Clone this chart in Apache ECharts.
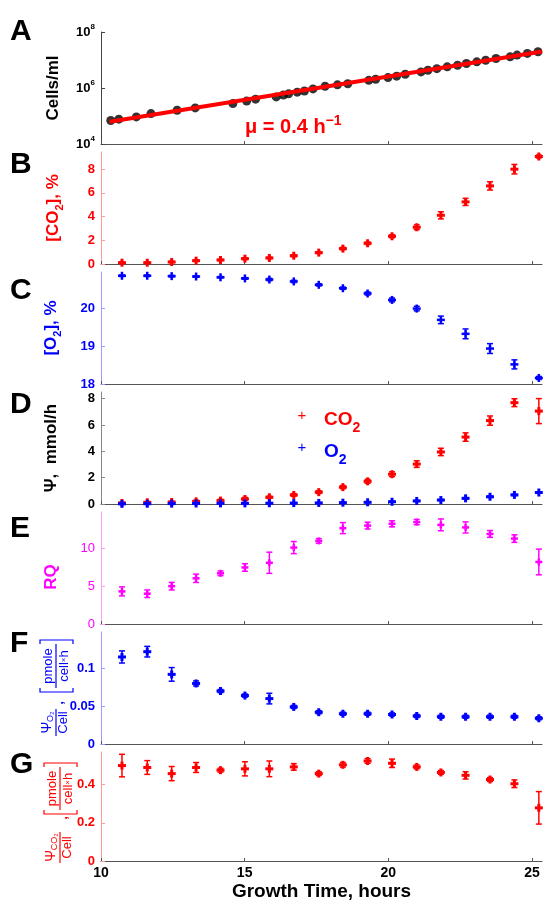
<!DOCTYPE html>
<html><head><meta charset="utf-8">
<script src="https://cdn.jsdelivr.net/npm/echarts@6/dist/echarts.min.js"></script>
<style>html,body{margin:0;padding:0;background:#fff}#c{width:544px;height:902px}</style>
</head><body><div id="c"></div><script>
// ---------------- DATA ----------------
const timeH = [10.73, 11.61, 12.46, 13.31, 14.16, 15.01, 15.86, 16.71, 17.58, 18.42, 19.28, 20.13, 20.99, 21.83, 22.69, 23.54, 24.39, 25.24];

const cellTimeH = [10.34, 10.62, 11.23, 11.74, 12.65, 13.28, 14.59, 15.07, 15.38, 16.10, 16.35, 16.53, 16.83, 17.08, 17.38, 17.80, 18.23, 18.59, 19.32, 19.56, 19.99, 20.29, 20.59, 21.14, 21.38, 21.69, 22.05, 22.41, 22.72, 23.08, 23.39, 23.75, 24.24, 24.48, 24.84, 25.21];
const cellsPerMl = [6.9e4, 7.7e4, 9.3e4, 1.22e5, 1.6e5, 1.95e5, 2.8e5, 3.4e5, 4.0e5, 4.8e5, 5.6e5, 6.2e5, 7.1e5, 7.8e5, 9.3e5, 1.15e6, 1.3e6, 1.42e6, 1.88e6, 2.05e6, 2.35e6, 2.65e6, 3.1e6, 3.75e6, 4.3e6, 4.9e6, 5.7e6, 6.5e6, 7.5e6, 8.6e6, 9.8e6, 1.13e7, 1.3e7, 1.5e7, 1.72e7, 1.98e7];
const fitTimeH = [10.3, 25.35];
const fitCellsPerMl = [6.2e4, 2.0e7];

const co2Pct    = [0.11, 0.11, 0.17, 0.28, 0.34, 0.45, 0.51, 0.70, 0.96, 1.30, 1.75, 2.34, 3.10, 4.11, 5.24, 6.59, 8.00, 9.07];
const co2PctErr = [0.05, 0.05, 0.05, 0.06, 0.05, 0.08, 0.06, 0.08, 0.08, 0.10, 0.10, 0.12, 0.20, 0.30, 0.30, 0.35, 0.40, 0.12];

const o2Pct    = [20.87, 20.87, 20.86, 20.85, 20.83, 20.80, 20.77, 20.72, 20.63, 20.54, 20.40, 20.23, 20.00, 19.70, 19.33, 18.94, 18.52, 18.16];
const o2PctErr = [0.02, 0.02, 0.02, 0.02, 0.02, 0.02, 0.03, 0.03, 0.03, 0.03, 0.04, 0.05, 0.06, 0.10, 0.13, 0.13, 0.12, 0.04];

const psiCO2    = [0.08, 0.13, 0.15, 0.20, 0.26, 0.38, 0.51, 0.69, 0.90, 1.28, 1.72, 2.26, 3.03, 3.95, 5.08, 6.33, 7.69, 7.05];
const psiCO2Err = [0.05, 0.05, 0.05, 0.08, 0.10, 0.12, 0.08, 0.10, 0.10, 0.12, 0.15, 0.18, 0.25, 0.28, 0.32, 0.35, 0.30, 0.95];
const psiO2     = [0.01, 0.02, 0.03, 0.04, 0.05, 0.05, 0.06, 0.07, 0.08, 0.10, 0.13, 0.17, 0.23, 0.30, 0.43, 0.55, 0.69, 0.87];
const psiO2Err  = [0.03, 0.03, 0.03, 0.03, 0.03, 0.03, 0.03, 0.03, 0.03, 0.03, 0.03, 0.03, 0.04, 0.04, 0.05, 0.05, 0.05, 0.05];

const rq    = [4.31, 4.00, 5.00, 6.04, 6.70, 7.47, 8.09, 10.10, 10.98, 12.67, 13.00, 13.24, 13.47, 13.10, 12.76, 11.90, 11.29, 8.20];
const rqErr = [0.60, 0.50, 0.50, 0.55, 0.30, 0.50, 1.40, 0.80, 0.30, 0.73, 0.45, 0.40, 0.35, 0.78, 0.73, 0.45, 0.50, 1.70];

const o2PerCell    = [0.115, 0.122, 0.092, 0.080, 0.070, 0.064, 0.060, 0.049, 0.042, 0.040, 0.040, 0.039, 0.037, 0.036, 0.036, 0.036, 0.036, 0.034];
const o2PerCellErr = [0.008, 0.007, 0.009, 0.0033, 0.002, 0.002, 0.007, 0.002, 0.002, 0.002, 0.002, 0.002, 0.002, 0.002, 0.002, 0.002, 0.002, 0.002];

const co2PerCell    = [0.499, 0.489, 0.457, 0.489, 0.475, 0.482, 0.482, 0.492, 0.457, 0.503, 0.523, 0.511, 0.492, 0.463, 0.448, 0.426, 0.404, 0.278];
const co2PerCellErr = [0.059, 0.036, 0.037, 0.026, 0.010, 0.037, 0.041, 0.017, 0.010, 0.012, 0.012, 0.022, 0.010, 0.010, 0.019, 0.010, 0.020, 0.085];

const xTicks = [10, 15, 20, 25];
const cellTicks = [1e4, 1e6, 1e8];
const co2PctTicks = [0, 2, 4, 6, 8];
const o2PctTicks = [18, 19, 20];
const psiTicks = [0, 2, 4, 6, 8];
const rqTicks = [0, 5, 10];
const o2CellTicks = [0, 0.05, 0.1];
const co2CellTicks = [0, 0.2, 0.4];

const panelLetters = ['A', 'B', 'C', 'D', 'E', 'F', 'G'];

// ---------------- STYLE ----------------
const FF = 'Arial, "Liberation Sans", Helvetica, sans-serif';
const RED = '#ff0000', BLUE = '#0000ff', MAG = '#ff00ff';
const GRID_TOP0 = 32, GRID_STEP = 120, GRID_H = 112;

const chart = echarts.init(document.getElementById('c'), null, {renderer: 'canvas'});

const grids = [], xAxes = [], yAxes = [];
for (let k = 0; k < 7; k++) {
  grids.push({left: 101, width: 441, top: GRID_TOP0 + GRID_STEP * k, height: GRID_H});
  xAxes.push({
    type: 'value', gridIndex: k, min: 10, max: 25.35,
    axisLine: {show: true, onZero: false, lineStyle: {color: '#555', width: 1}},
    axisTick: {show: true, inside: true, length: 3, customValues: xTicks, lineStyle: {color: '#555'}},
    axisLabel: {show: k === 6, customValues: xTicks, color: '#000', fontSize: 14, fontWeight: 'bold', fontFamily: FF, margin: 5},
    splitLine: {show: false},
    name: k === 6 ? 'Growth Time, hours' : '',
    nameLocation: 'middle', nameGap: 21,
    nameTextStyle: {color: '#000', fontSize: 19, fontWeight: 'bold', fontFamily: FF}
  });
}

function yAx(k, o) {
  return {
    type: o.type || 'value', gridIndex: k, min: o.min, max: o.max,
    name: o.name || '', nameLocation: 'middle', nameGap: o.gap || 36, nameRotate: 90,
    nameTextStyle: Object.assign({color: o.nameColor, fontSize: 17, fontWeight: 'bold', fontFamily: FF, lineHeight: 24,
      rich: {s: {color: o.nameColor, fontSize: 11, fontWeight: 'bold', fontFamily: FF, lineHeight: 11, verticalAlign: 'bottom'}}}, o.nameExtra || {}),
    axisLine: {show: true, lineStyle: {color: o.lineColor, width: 1}},
    axisTick: {show: true, inside: true, length: 4, customValues: o.ticks, lineStyle: {color: o.lineColor}},
    axisLabel: Object.assign({color: o.labelColor, fontSize: 13, fontWeight: o.labelWeight || 'bold', fontFamily: FF, margin: 6, customValues: o.ticks}, o.label || {}),
    splitLine: {show: false}
  };
}

yAxes.push(yAx(0, {type: 'log', min: 1e4, max: 1e8, ticks: cellTicks, name: 'Cells/ml', nameColor: '#000', lineColor: '#444', labelColor: '#000',
  label: {
    formatter: v => '{b|10}{s|' + Math.round(Math.log10(v)) + '}',
    rich: {b: {color: '#000', fontSize: 13, fontWeight: 'bold', fontFamily: FF, lineHeight: 18},
           s: {color: '#000', fontSize: 8, fontWeight: 'bold', fontFamily: FF, lineHeight: 10, verticalAlign: 'top'}}
  }}));
yAxes.push(yAx(1, {min: 0, max: 9.45, ticks: co2PctTicks, name: '[CO{s|2}], %', nameColor: RED, lineColor: '#ff9a9a', labelColor: RED}));
yAxes.push(yAx(2, {min: 18, max: 20.97, ticks: o2PctTicks, name: '[O{s|2}], %', nameColor: BLUE, lineColor: '#9a9aff', labelColor: BLUE, gap: 38}));
yAxes.push(yAx(3, {min: 0, max: 8.5, ticks: psiTicks, name: 'Ψ,  mmol/h', nameColor: '#000', lineColor: '#888', labelColor: '#000', gap: 38}));
yAxes.push(yAx(4, {min: 0, max: 14.8, ticks: rqTicks, name: 'RQ', nameColor: MAG, lineColor: '#ff9aff', labelColor: MAG, labelWeight: 'normal', gap: 38,
  nameExtra: {padding: [0, 18, 0, 0]}}));
yAxes.push(yAx(5, {min: 0, max: 0.148, ticks: o2CellTicks, nameColor: BLUE, lineColor: '#9a9aff', labelColor: BLUE}));
yAxes.push(yAx(6, {min: 0, max: 0.57, ticks: co2CellTicks, nameColor: RED, lineColor: '#ff9a9a', labelColor: RED}));

function errSeries(k, vals, errs, color, m, lw) {
  return {
    type: 'custom', xAxisIndex: k, yAxisIndex: k, clip: false,
    data: timeH.map((t, i) => [t, vals[i], errs[i]]),
    encode: {x: 0, y: 1},
    renderItem: (params, api) => {
      const x = api.value(0), y = api.value(1), e = api.value(2);
      const c = api.coord([x, y]), hi = api.coord([x, y + e]), lo = api.coord([x, y - e]);
      const cw = 3, st = {stroke: color, lineWidth: 1.5};
      const mst = {stroke: color, lineWidth: lw};
      return {type: 'group', children: [
        {type: 'line', shape: {x1: c[0], y1: hi[1], x2: c[0], y2: lo[1]}, style: st},
        {type: 'line', shape: {x1: c[0] - cw, y1: hi[1], x2: c[0] + cw, y2: hi[1]}, style: st},
        {type: 'line', shape: {x1: c[0] - cw, y1: lo[1], x2: c[0] + cw, y2: lo[1]}, style: st},
        {type: 'line', shape: {x1: c[0] - m, y1: c[1], x2: c[0] + m, y2: c[1]}, style: mst},
        {type: 'line', shape: {x1: c[0], y1: c[1] - m, x2: c[0], y2: c[1] + m}, style: mst}
      ]};
    }
  };
}

const series = [
  {type: 'scatter', xAxisIndex: 0, yAxisIndex: 0, data: cellTimeH.map((t, i) => [t, cellsPerMl[i]]),
   symbol: 'circle', symbolSize: 9, itemStyle: {color: '#000'}, z: 2},
  {type: 'line', xAxisIndex: 0, yAxisIndex: 0, data: fitTimeH.map((t, i) => [t, fitCellsPerMl[i]]),
   showSymbol: false, lineStyle: {color: RED, width: 4}, z: 3},
  errSeries(1, co2Pct, co2PctErr, RED, 4, 3),
  errSeries(2, o2Pct, o2PctErr, BLUE, 4, 2.5),
  errSeries(3, psiCO2, psiCO2Err, RED, 4, 3),
  errSeries(3, psiO2, psiO2Err, BLUE, 4, 3),
  errSeries(4, rq, rqErr, MAG, 3.5, 2.5),
  errSeries(5, o2PerCell, o2PerCellErr, BLUE, 4, 3),
  errSeries(6, co2PerCell, co2PerCellErr, RED, 4, 3)
];

// rotated fraction-style axis titles for panels F and G
function perCellTitle(ox, oy, color, sub, fracLen, commaX, bs, be) {
  const f = '13px ' + FF;
  const mid = (bs + be) / 2;
  return {
    type: 'group', x: ox, y: oy, rotation: Math.PI / 2, silent: true,
    children: [
      {type: 'text', x: fracLen / 2, y: -1, style: {text: '{p|Ψ}{s|' + sub + '}', fill: color, align: 'center', verticalAlign: 'bottom',
        rich: {p: {fontSize: 14, fontFamily: FF, fill: color, color: color, lineHeight: 16}, s: {fontSize: 9, fontFamily: FF, fill: color, color: color, lineHeight: 9, verticalAlign: 'bottom'}}}},
      {type: 'line', shape: {x1: 0, y1: 0, x2: fracLen, y2: 0}, style: {stroke: color, lineWidth: 1.2}},
      {type: 'text', x: fracLen / 2, y: 1, style: {text: 'Cell', fill: color, font: f, align: 'center', verticalAlign: 'top'}},
      {type: 'text', x: commaX, y: 3, style: {text: ',', fill: color, font: 'bold 13px ' + FF, align: 'center', verticalAlign: 'middle'}},
      {type: 'polyline', shape: {points: [[bs + 4, -16], [bs, -16], [bs, 17], [bs + 4, 17]]}, style: {stroke: color, lineWidth: 1.2, fill: null}},
      {type: 'polyline', shape: {points: [[be - 4, -16], [be, -16], [be, 17], [be - 4, 17]]}, style: {stroke: color, lineWidth: 1.2, fill: null}},
      {type: 'line', shape: {x1: bs + 4, y1: 0, x2: be - 4, y2: 0}, style: {stroke: color, lineWidth: 1.2}},
      {type: 'text', x: mid, y: -1, style: {text: 'pmole', fill: color, font: f, align: 'center', verticalAlign: 'bottom'}},
      {type: 'text', x: mid, y: 1, style: {text: '{a|cell}{b|×}{a|h}', fill: color, align: 'center', verticalAlign: 'top',
        rich: {a: {fontSize: 13, fontFamily: FF, color: color, fill: color, lineHeight: 14}, b: {fontSize: 8, fontFamily: FF, color: color, fill: color, lineHeight: 14}}}}
    ]
  };
}

const letterTops = [20, 153, 279, 393, 517, 632, 753];
const graphic = panelLetters.map((L, k) => ({
  type: 'text', left: 10, top: letterTops[k] - 3, silent: true,
  style: {text: L, fill: '#000', font: 'bold 30px ' + FF}
}));
graphic.push({type: 'text', left: 245, top: 114, silent: true,
  style: {text: '{m|μ = 0.4 h}{s|−1}', rich: {
    m: {fontSize: 20, fontWeight: 'bold', fontFamily: FF, fill: RED, color: RED, lineHeight: 26},
    s: {fontSize: 14, fontWeight: 'bold', fontFamily: FF, fill: RED, color: RED, lineHeight: 14, verticalAlign: 'top'}}}});
// legend for panel D
graphic.push({type: 'text', x: 302, y: 416, silent: true, style: {text: '+', fill: RED, font: '15px ' + FF, align: 'center', verticalAlign: 'middle'}});
graphic.push({type: 'text', x: 302, y: 448, silent: true, style: {text: '+', fill: BLUE, font: '15px ' + FF, align: 'center', verticalAlign: 'middle'}});
graphic.push({type: 'text', x: 324, y: 420, silent: true, style: {text: '{a|CO}{s|2}', align: 'left', verticalAlign: 'middle', rich: {
  a: {fontSize: 19, fontWeight: 'bold', fontFamily: FF, fill: RED, color: RED, lineHeight: 30},
  s: {fontSize: 14, fontWeight: 'bold', fontFamily: FF, fill: RED, color: RED, lineHeight: 14, verticalAlign: 'bottom'}}}});
graphic.push({type: 'text', x: 324, y: 452, silent: true, style: {text: '{a|O}{s|2}', align: 'left', verticalAlign: 'middle', rich: {
  a: {fontSize: 19, fontWeight: 'bold', fontFamily: FF, fill: BLUE, color: BLUE, lineHeight: 30},
  s: {fontSize: 14, fontWeight: 'bold', fontFamily: FF, fill: BLUE, color: BLUE, lineHeight: 14, verticalAlign: 'bottom'}}}});
graphic.push(perCellTitle(56, 736, BLUE, 'O₂', 27, 33, 44, 96));
graphic.push(perCellTitle(60, 863, RED, 'CO₂', 31, 45, 49, 100));

chart.setOption({
  animation: false,
  backgroundColor: '#fff',
  textStyle: {fontFamily: FF},
  grid: grids, xAxis: xAxes, yAxis: yAxes, series: series, graphic: graphic
});
</script></body></html>
